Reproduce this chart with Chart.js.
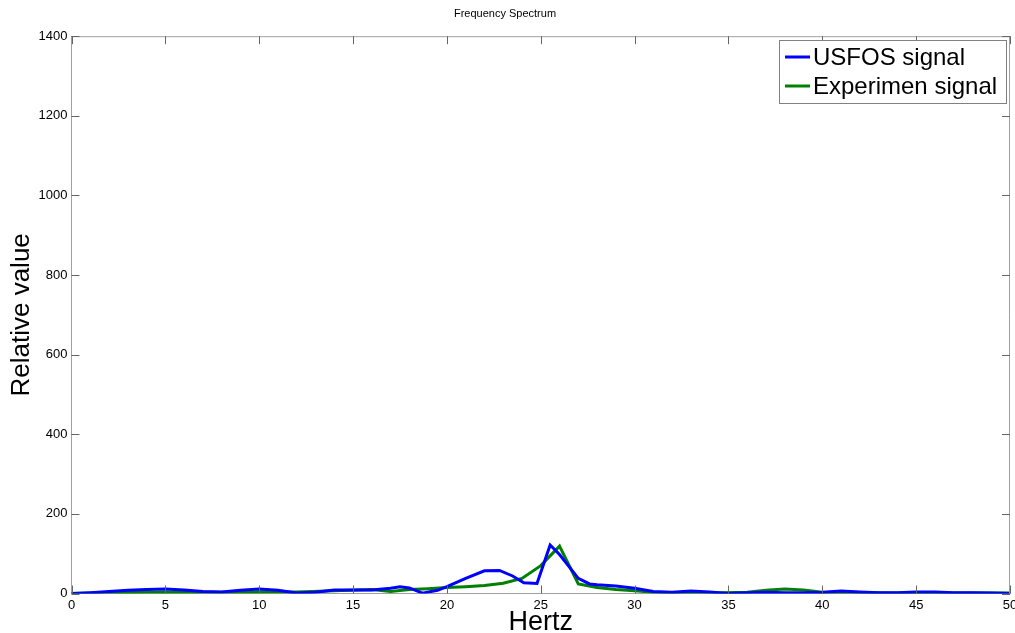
<!DOCTYPE html>
<html>
<head>
<meta charset="utf-8">
<script src="https://cdn.jsdelivr.net/npm/chart.js@4.4.1/dist/chart.umd.min.js"></script>
<style>
  html, body { margin: 0; padding: 0; background: #fff; }
  #wrap { width: 1015px; height: 633px; }
</style>
</head>
<body>
<div id="wrap"><canvas id="grafico"></canvas></div>
<script>
// USFOS signal (blue)
const usfosHz = [0, 1, 2, 3, 4, 5, 6, 7, 8, 9, 10, 11, 12, 13, 14, 15, 16, 17, 17.5, 18, 18.7, 19.5, 20, 21, 22, 22.8, 23.5, 24.1, 24.8, 25.5, 26, 27, 27.6, 28, 29, 30, 31, 32, 33, 34, 35, 36, 37, 38, 39, 40, 41, 42, 43, 44, 45, 46, 47, 48, 49, 50];
const usfosVal = [0, 2, 5, 8, 10, 11, 9, 5, 4, 8, 11, 8, 1, 3, 9, 9, 9, 13, 17, 14, 1, 8, 17, 38, 57, 58, 44, 27, 25, 122, 98, 38, 24, 22, 19, 13, 5, 3, 6, 4, 0, 2, 3, 2, 2, 3, 6, 4, 2, 2, 4, 4, 2, 2, 1, 0];

// Experimen signal (green)
const expHz = [0, 2, 4, 6, 8, 10, 12, 14, 16, 17, 18, 19, 20, 21, 22, 23, 24, 25, 26, 27, 28, 29, 30, 31, 32, 34, 36, 37, 38, 39, 40, 42, 44, 46, 48, 50];
const expVal = [0, 2, 3, 3, 3, 4, 4, 7, 10, 5, 10, 12, 15, 17, 20, 26, 38, 70, 119, 24, 15, 10, 7, 3, 2, 1, 3, 8, 11, 9, 3, 2, 1, 1, 1, 1];

const seriesLabels = ['USFOS signal', 'Experimen signal'];
const xTicks = [0, 5, 10, 15, 20, 25, 30, 35, 40, 45, 50];
const yTicks = [0, 200, 400, 600, 800, 1000, 1200, 1400];

const fonte = '"Liberation Sans", Arial, sans-serif';

function pares(xs, ys) {
  return xs.map(function (x, i) { return { x: x, y: ys[i] }; });
}

// caixa do eixo estilo MATLAB: bordas superior/direita + ticks para dentro + legenda
const caixaPlugin = {
  id: 'caixa',
  afterDraw: function (chart) {
    const ctx = chart.ctx;
    const a = chart.chartArea;
    const sx = chart.scales.x;
    const sy = chart.scales.y;
    const len = 8;
    ctx.save();
    ctx.strokeStyle = '#a0a0a0';
    ctx.lineWidth = 1;
    ctx.beginPath();
    ctx.moveTo(a.left, a.top + 0.5);
    ctx.lineTo(a.right, a.top + 0.5);
    ctx.moveTo(a.right - 0.5, a.top);
    ctx.lineTo(a.right - 0.5, a.bottom);
    ctx.stroke();

    ctx.strokeStyle = '#666';
    ctx.beginPath();
    xTicks.forEach(function (v) {
      const px = Math.round(sx.getPixelForValue(v)) + 0.5;
      ctx.moveTo(px, a.bottom);
      ctx.lineTo(px, a.bottom - len);
      ctx.moveTo(px, a.top);
      ctx.lineTo(px, a.top + len);
    });
    yTicks.forEach(function (v) {
      const py = Math.round(sy.getPixelForValue(v)) + 0.5;
      ctx.moveTo(a.left, py);
      ctx.lineTo(a.left + len, py);
      ctx.moveTo(a.right, py);
      ctx.lineTo(a.right - len, py);
    });
    ctx.stroke();

    // legenda
    const bx = 779.5, by = 40.5, bw = 227, bh = 63;
    ctx.fillStyle = '#fff';
    ctx.fillRect(bx, by, bw, bh);
    ctx.strokeStyle = '#808080';
    ctx.strokeRect(bx, by, bw, bh);
    ctx.font = '24px ' + fonte;
    ctx.textBaseline = 'middle';
    ctx.fillStyle = '#000';
    chart.data.datasets.forEach(function (ds, i) {
      const cy = 57 + i * 29;
      ctx.strokeStyle = ds.borderColor;
      ctx.lineWidth = 3;
      ctx.beginPath();
      ctx.moveTo(785, cy);
      ctx.lineTo(810, cy);
      ctx.stroke();
      ctx.fillText(ds.label, 813, cy + 1);
    });
    ctx.restore();
  }
};

new Chart(document.getElementById('grafico'), {
  type: 'line',
  data: {
    datasets: [
      {
        label: seriesLabels[0],
        data: pares(usfosHz, usfosVal),
        borderColor: '#0000ff',
        borderWidth: 3,
        pointRadius: 0,
        tension: 0
      },
      {
        label: seriesLabels[1],
        data: pares(expHz, expVal),
        borderColor: '#008000',
        borderWidth: 3,
        pointRadius: 0,
        tension: 0
      }
    ]
  },
  options: {
    responsive: true,
    maintainAspectRatio: false,
    animation: false,
    layout: { padding: { left: 0, right: 5, top: 0, bottom: 0 } },
    plugins: {
      legend: { display: false },
      tooltip: { enabled: false },
      title: {
        display: true,
        text: 'Frequency Spectrum',
        color: '#000',
        font: { family: fonte, size: 11, weight: 'normal' },
        padding: { top: 7, bottom: 16 }
      }
    },
    scales: {
      x: {
        type: 'linear',
        min: 0,
        max: 50,
        afterBuildTicks: function (s) { s.ticks = xTicks.map(function (v) { return { value: v }; }); },
        afterFit: function (s) { s.height = 39.5; s.paddingLeft = 0; s.paddingRight = 0; },
        ticks: {
          color: '#000',
          padding: 4,
          maxRotation: 0,
          autoSkip: false,
          font: { family: fonte, size: 13 }
        },
        grid: { display: false, drawTicks: false },
        border: { display: true, color: '#a0a0a0' },
        title: {
          display: true,
          text: 'Hertz',
          color: '#000',
          font: { family: fonte, size: 27, lineHeight: 1 },
          padding: { top: 0, bottom: -3 }
        }
      },
      y: {
        min: 0,
        max: 1400,
        afterBuildTicks: function (s) { s.ticks = yTicks.map(function (v) { return { value: v }; }); },
        afterFit: function (s) { s.width = 71.5; s.paddingTop = 0; s.paddingBottom = 0; },
        ticks: {
          color: '#000',
          padding: 4,
          autoSkip: false,
          font: { family: fonte, size: 13 },
          callback: function (v) { return String(v); }
        },
        grid: { display: false, drawTicks: false },
        border: { display: true, color: '#a0a0a0' },
        title: {
          display: true,
          text: 'Relative value',
          color: '#000',
          font: { family: fonte, size: 26, lineHeight: 1 },
          padding: { top: 9, bottom: 0 }
        }
      }
    }
  },
  plugins: [caixaPlugin]
});
</script>
</body>
</html>
